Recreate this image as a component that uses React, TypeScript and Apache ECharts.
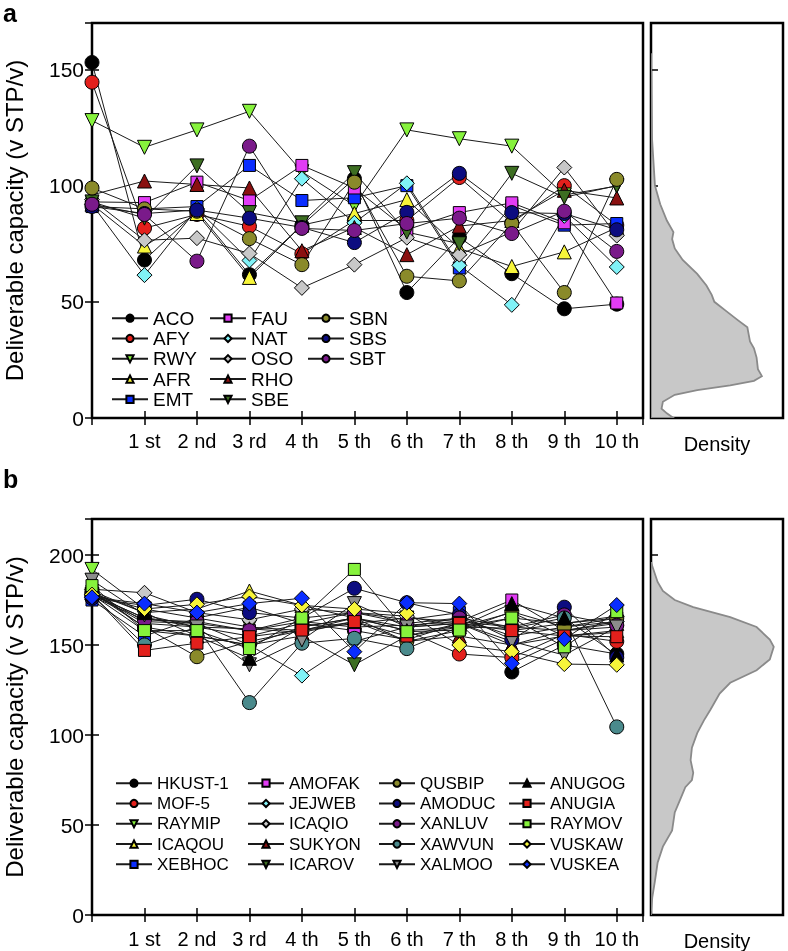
import React, { useEffect, useRef } from 'react';
import * as echarts from 'echarts';

const FONT = '"Liberation Sans", Arial, Helvetica, sans-serif';

// ---------- x tick labels ----------
const xTickLabels = ['', '1 st', '2 nd', '3 rd', '4 th', '5 th', '6 th', '7 th', '8 th', '9 th', '10 th'];
const yTitle = 'Deliverable capacity (v STP/v)';

// ---------- panel a values (index 0 = initial, then 1st..10th) ----------
const ACO = [153, 68, 89, 61.7, 83, 103, 54, 77.7, 62.1, 47, 49];
const AFY = [144.5, 81.7, 87.6, 82.5, 70.7, 85, 85, 103.5, 84, 100, 83];
const RWY = [128, 116.5, 124, 132, 106, 91.4, 124, 120.2, 117, 96, 99.8];
const AFR = [92, 74, 88, 60.5, 83, 88, 94, 73, 65.2, 71.5, 82];
const EMT = [91, 90, 91, 108.7, 93.6, 94.8, 100, 64.6, 91.4, 83, 83.7];
const FAU = [93, 92.7, 101.5, 93.6, 108.7, 99, 81, 88.4, 92.6, 84, 49.5];
const NAT = [92, 61.5, 90, 67.8, 103, 84, 101, 65.7, 48.7, 87, 65];
const OSO = [94, 76.5, 77.4, 70.8, 56, 66, 77.6, 70.3, 80, 107.8, 78.5];
const RHO = [96, 102, 100.5, 99, 72, 82, 70.3, 82.6, 85, 98, 94.7];
const SBE = [93, 86, 108.5, 88.4, 84, 105.6, 80, 75, 105.3, 95, 100];
const SBN = [99, 90, 89, 77.2, 66, 101.5, 61, 59, 83.7, 54, 102.7];
const SBS = [91, 88, 89.5, 86, 82, 75.5, 88.5, 105.3, 88.4, 88, 81];
const SBT = [92, 87.6, 67.5, 117, 81.6, 80.7, 83.7, 86, 79.4, 89, 71.7];

// ---------- panel b values ----------
const HKUST1 = [178, 165, 160, 155, 162, 158, 153, 162, 135, 150, 145];
const MOF5 = [179, 160, 155, 150, 160, 165, 158, 145, 143, 156, 152];
const RAYMIP = [192, 170, 165, 160, 158, 162, 165, 163, 160, 158, 160];
const ICAQOU = [180, 168, 170, 180, 172, 165, 160, 162, 150, 155, 158];
const XEBHOC = [175, 155, 165, 171, 162, 168, 164, 168, 158, 162, 165];
const AMOFAK = [180, 163, 162, 158, 163, 160, 161, 163, 175, 158, 163];
const JEJWEB = [178, 158, 155, 150, 133, 152, 160, 165, 155, 160, 163];
const ICAQIO = [181, 179, 168, 164, 170, 168, 166, 160, 165, 162, 166];
const SUKYON = [179, 162, 160, 159, 157, 163, 152, 155, 150, 158, 162];
const ICAROV = [178, 165, 162, 150, 155, 139, 155, 160, 168, 155, 157];
const QUSBIP = [180, 160, 143.5, 152, 158, 165, 152, 158, 168.5, 160, 165];
const AMODUC = [176, 172, 175.4, 168, 165, 181.5, 173.5, 166.7, 153, 171, 143];
const XANLUV = [177, 164, 163, 158, 165, 168, 162, 165, 160, 166.7, 161];
const XAWVUN = [178, 150, 160, 118, 151, 153.7, 148, 160, 159.3, 165, 104.5];
const XALMOO = [186, 166.7, 160, 139, 152.8, 173, 160, 162, 152, 144.4, 160];
const ANUGOG = [179, 168, 155, 142.6, 160, 165, 158, 160, 173, 165, 144.4];
const ANUGIA = [178, 147, 151, 154.6, 158.3, 163, 155, 162, 158, 155, 154.6];
const RAYMOV = [183, 158, 158, 148, 165, 192, 157.4, 158.3, 165, 149, 168.5];
const VUSKAW = [178, 170, 172.6, 177, 172, 170, 167.6, 150, 146.3, 139.4, 139];
const VUSKEA = [176.5, 173, 168, 173, 176, 146.3, 173.5, 173, 139.8, 153.3, 172.2];

// ---------- density curves (capacity value, density) ----------
const densAValue = [157, 140, 120, 100, 92, 85, 80, 77, 73, 68, 62, 57, 53, 50, 46, 42, 39, 36, 33, 30, 26, 21, 18, 16, 14, 12, 10, 7, 4, 2, 0];
const densADensity = [0, 0.003, 0.008, 0.03, 0.07, 0.12, 0.17, 0.16, 0.18, 0.24, 0.35, 0.42, 0.46, 0.48, 0.57, 0.66, 0.73, 0.74, 0.75, 0.78, 0.8, 0.81, 0.84, 0.78, 0.6, 0.35, 0.18, 0.09, 0.08, 0.12, 0.17];
const densBValue = [196, 185, 180, 175, 171, 165.5, 160, 153, 149, 142, 136, 129, 123, 114, 108, 101, 93, 86, 79, 75, 71, 64, 57, 47, 38, 29, 19, 10, 2, 0];
const densBDensity = [0, 0.05, 0.09, 0.18, 0.32, 0.6, 0.8, 0.9, 0.93, 0.9, 0.8, 0.6, 0.52, 0.45, 0.4, 0.35, 0.31, 0.3, 0.32, 0.31, 0.26, 0.22, 0.18, 0.16, 0.09, 0.05, 0.03, 0.01, 0, 0];

// ---------- styles ----------
const C = {
  black: '#000000', red: '#e3201c', lgreen: '#86f23c', yellow: '#f7f53a', blue: '#0a2dff',
  magenta: '#e23cf5', cyan: '#80f2f7', lgrey: '#c8c8c8', dred: '#8a1010', dgreen: '#3d6e22',
  olive: '#8a8a2a', navy: '#0c0c80', purple: '#7a1a8a', teal: '#4a8a8c', mgrey: '#8c8c8c',
};
type Def = { name: string; values: number[]; symbol: string; color: string; rotate?: number };
const tri = 'triangle', sq = 'rect', ci = 'circle', di = 'diamond';

const defsA: Def[] = [
  { name: 'ACO', values: ACO, symbol: ci, color: C.black },
  { name: 'AFY', values: AFY, symbol: ci, color: C.red },
  { name: 'RWY', values: RWY, symbol: tri, color: C.lgreen, rotate: 180 },
  { name: 'AFR', values: AFR, symbol: tri, color: C.yellow },
  { name: 'EMT', values: EMT, symbol: sq, color: C.blue },
  { name: 'FAU', values: FAU, symbol: sq, color: C.magenta },
  { name: 'NAT', values: NAT, symbol: di, color: C.cyan },
  { name: 'OSO', values: OSO, symbol: di, color: C.lgrey },
  { name: 'RHO', values: RHO, symbol: tri, color: C.dred },
  { name: 'SBE', values: SBE, symbol: tri, color: C.dgreen, rotate: 180 },
  { name: 'SBN', values: SBN, symbol: ci, color: C.olive },
  { name: 'SBS', values: SBS, symbol: ci, color: C.navy },
  { name: 'SBT', values: SBT, symbol: ci, color: C.purple },
];
const defsB: Def[] = [
  { name: 'HKUST-1', values: HKUST1, symbol: ci, color: C.black },
  { name: 'MOF-5', values: MOF5, symbol: ci, color: C.red },
  { name: 'RAYMIP', values: RAYMIP, symbol: tri, color: C.lgreen, rotate: 180 },
  { name: 'ICAQOU', values: ICAQOU, symbol: tri, color: C.yellow },
  { name: 'XEBHOC', values: XEBHOC, symbol: sq, color: C.blue },
  { name: 'AMOFAK', values: AMOFAK, symbol: sq, color: C.magenta },
  { name: 'JEJWEB', values: JEJWEB, symbol: di, color: C.cyan },
  { name: 'ICAQIO', values: ICAQIO, symbol: di, color: C.lgrey },
  { name: 'SUKYON', values: SUKYON, symbol: tri, color: C.dred },
  { name: 'ICAROV', values: ICAROV, symbol: tri, color: C.dgreen, rotate: 180 },
  { name: 'QUSBIP', values: QUSBIP, symbol: ci, color: C.olive },
  { name: 'AMODUC', values: AMODUC, symbol: ci, color: C.navy },
  { name: 'XANLUV', values: XANLUV, symbol: ci, color: C.purple },
  { name: 'XAWVUN', values: XAWVUN, symbol: ci, color: C.teal },
  { name: 'XALMOO', values: XALMOO, symbol: tri, color: C.mgrey, rotate: 180 },
  { name: 'ANUGOG', values: ANUGOG, symbol: tri, color: C.black },
  { name: 'ANUGIA', values: ANUGIA, symbol: sq, color: C.red },
  { name: 'RAYMOV', values: RAYMOV, symbol: sq, color: C.lgreen },
  { name: 'VUSKAW', values: VUSKAW, symbol: di, color: C.yellow },
  { name: 'VUSKEA', values: VUSKEA, symbol: di, color: C.blue },
];

const symSize = (s: string) => (s === sq ? 12 : s === di ? 15 : 14);

function mkSeries(defs: Def[], xIdx: number, yIdx: number) {
  return defs.map((d) => ({
    type: 'line',
    name: d.name,
    xAxisIndex: xIdx,
    yAxisIndex: yIdx,
    data: d.values.map((v, i) => [i, v]),
    symbol: d.symbol,
    symbolRotate: d.rotate || 0,
    symbolSize: symSize(d.symbol),
    showAllSymbol: true,
    lineStyle: { color: '#1a1a1a', width: 1 },
    itemStyle: { color: d.color, borderColor: '#000', borderWidth: 1 },
    emphasis: { disabled: true },
    z: 3,
  }));
}

function mkDensity(values: number[], dens: number[], xIdx: number, yIdx: number) {
  const data = values.map((v, i) => [dens[i], v]);
  return {
    type: 'custom',
    xAxisIndex: xIdx,
    yAxisIndex: yIdx,
    data,
    clip: true,
    z: 3,
    renderItem: (params: any, api: any) => {
      if (params.dataIndex !== 0) return null;
      const first = data[0];
      const last = data[data.length - 1];
      const pts = [[0, first[1]], ...data, [0, last[1]]].map((p) => api.coord(p));
      return {
        type: 'polygon',
        shape: { points: pts },
        style: { fill: '#c8c8c8', stroke: '#8a8a8a', lineWidth: 1.8 },
      };
    },
  };
}

function legendCol(names: string[], left: number, top: number, fontSize: number) {
  return {
    orient: 'vertical',
    left,
    top,
    data: names,
    itemWidth: 36,
    itemHeight: 9,
    itemGap: 0,
    selectedMode: false,
    textStyle: { fontSize, fontFamily: FONT, color: '#000', lineHeight: 20.3 },
  };
}

const tickStyle = { show: true, inside: true, length: 7, lineStyle: { color: '#000', width: 1.5 } };

function xMain(gridIndex: number, top: boolean, margin: number) {
  return {
    type: 'value', gridIndex, min: 0, max: 10.5, interval: 1,
    position: top ? 'top' : 'bottom',
    axisLine: { show: false },
    axisTick: tickStyle,
    splitLine: { show: false },
    axisLabel: top
      ? { show: false }
      : {
          show: true, margin, fontSize: 20, fontFamily: FONT, color: '#000', showMaxLabel: false,
          formatter: (v: number) => xTickLabels[v] ?? '',
        },
  };
}
function xDens(gridIndex: number) {
  return {
    type: 'value', gridIndex, min: 0, max: 1,
    axisLine: { show: false }, axisTick: { show: false }, axisLabel: { show: false }, splitLine: { show: false },
    name: 'Density', nameLocation: 'middle', nameGap: 16,
    nameTextStyle: { fontSize: 20, fontFamily: FONT, color: '#000' },
  };
}
function yAx(gridIndex: number, max: number, pos: string, labels: boolean, name?: string) {
  return {
    type: 'value', gridIndex, min: 0, max, interval: 50, position: pos,
    axisLine: { show: false },
    axisTick: tickStyle,
    splitLine: { show: false },
    axisLabel: labels ? { show: true, margin: 8, fontSize: 21, fontFamily: FONT, color: '#000', showMaxLabel: false } : { show: false },
    name: name || '',
    nameLocation: 'middle',
    nameGap: 66,
    nameTextStyle: { fontSize: 24, fontFamily: FONT, color: '#000' },
  };
}

const gridBox = {
  show: true, borderColor: '#000', borderWidth: 2.5, backgroundColor: 'transparent',
  containLabel: false, outerBoundsMode: 'none',
};

export default function App() {
  const ref = useRef<HTMLDivElement>(null);
  useEffect(() => {
    if (!ref.current) return;
    const chart = echarts.init(ref.current, undefined, { renderer: 'svg' });
    const aNames = defsA.map((d) => d.name);
    const bNames = defsB.map((d) => d.name);
    chart.setOption({
      animation: false,
      title: [
        { text: 'a', left: 3, top: 0, padding: 0, textStyle: { fontSize: 25, fontWeight: 'bold', fontFamily: FONT, color: '#000' } },
        { text: 'b', left: 3, top: 466, padding: 0, textStyle: { fontSize: 25, fontWeight: 'bold', fontFamily: FONT, color: '#000' } },
      ],
      grid: [
        { left: 92, top: 23, width: 551, height: 395, ...gridBox },
        { left: 651, top: 23, width: 132, height: 395, ...gridBox },
        { left: 92, top: 519, width: 551, height: 396, ...gridBox },
        { left: 651, top: 519, width: 132, height: 396, ...gridBox },
      ],
      xAxis: [xMain(0, false, 13), xMain(0, true, 0), xDens(1), xMain(2, false, 14), xMain(2, true, 0), xDens(3)],
      yAxis: [
        yAx(0, 170, 'left', true, yTitle), yAx(0, 170, 'right', false), yAx(1, 170, 'left', false),
        yAx(2, 220, 'left', true, yTitle), yAx(2, 220, 'right', false), yAx(3, 220, 'left', false),
      ],
      legend: [
        legendCol(aNames.slice(0, 5), 106, 303, 19),
        legendCol(aNames.slice(5, 10), 204, 303, 19),
        legendCol(aNames.slice(10), 302, 303, 19),
        legendCol(bNames.slice(0, 5), 110, 768, 17),
        legendCol(bNames.slice(5, 10), 242, 768, 17),
        legendCol(bNames.slice(10, 15), 373, 768, 17),
        legendCol(bNames.slice(15), 503, 768, 17),
      ],
      series: [
        ...mkSeries(defsA, 0, 0),
        mkDensity(densAValue, densADensity, 2, 2),
        ...mkSeries(defsB, 3, 3),
        mkDensity(densBValue, densBDensity, 5, 5),
      ],
    });
    return () => chart.dispose();
  }, []);
  return <div ref={ref} style={{ position: 'fixed', left: 0, top: 0, width: 788, height: 951 }} />;
}
